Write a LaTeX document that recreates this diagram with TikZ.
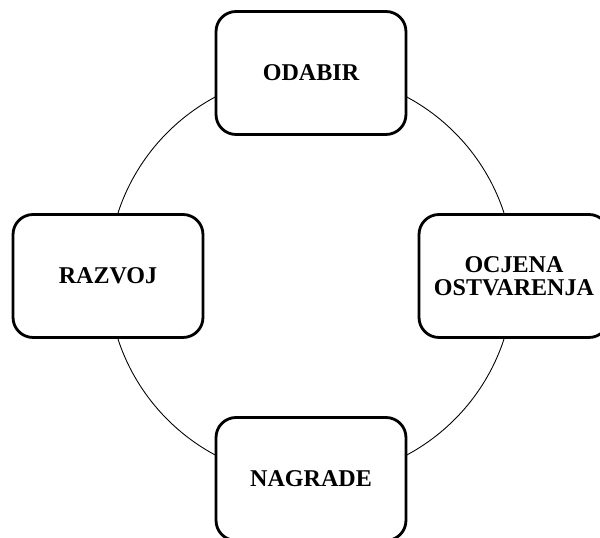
\documentclass[tikz,border=0pt]{standalone}
\usepackage{fontspec}
\setmainfont{Liberation Serif}

\begin{document}
\begin{tikzpicture}[x=0.02cm,y=0.02cm,
    stage/.style={draw,line width=1.6pt,rounded corners=0.4cm,fill=white,
        minimum width=3.8cm,minimum height=2.46cm,align=center,
        font=\fontsize{13.7}{13.2}\selectfont\bfseries}]
    \useasboundingbox (0,0) rectangle (600,538);

    % cycle
    \coordinate (c) at (311,262);
    \draw[line width=0.5pt] (c) circle (203);

    % stages
    \node[stage] (odabir) at ([shift={(90:203)}]c) {ODABIR};
    \node[stage] (ocjena) at ([shift={(0:203)}]c) {OCJENA\\OSTVARENJA};
    \node[stage] (nagrade) at ([shift={(270:203)}]c) {NAGRADE};
    \node[stage] (razvoj) at ([shift={(180:203)}]c) {RAZVOJ};
\end{tikzpicture}
\end{document}
